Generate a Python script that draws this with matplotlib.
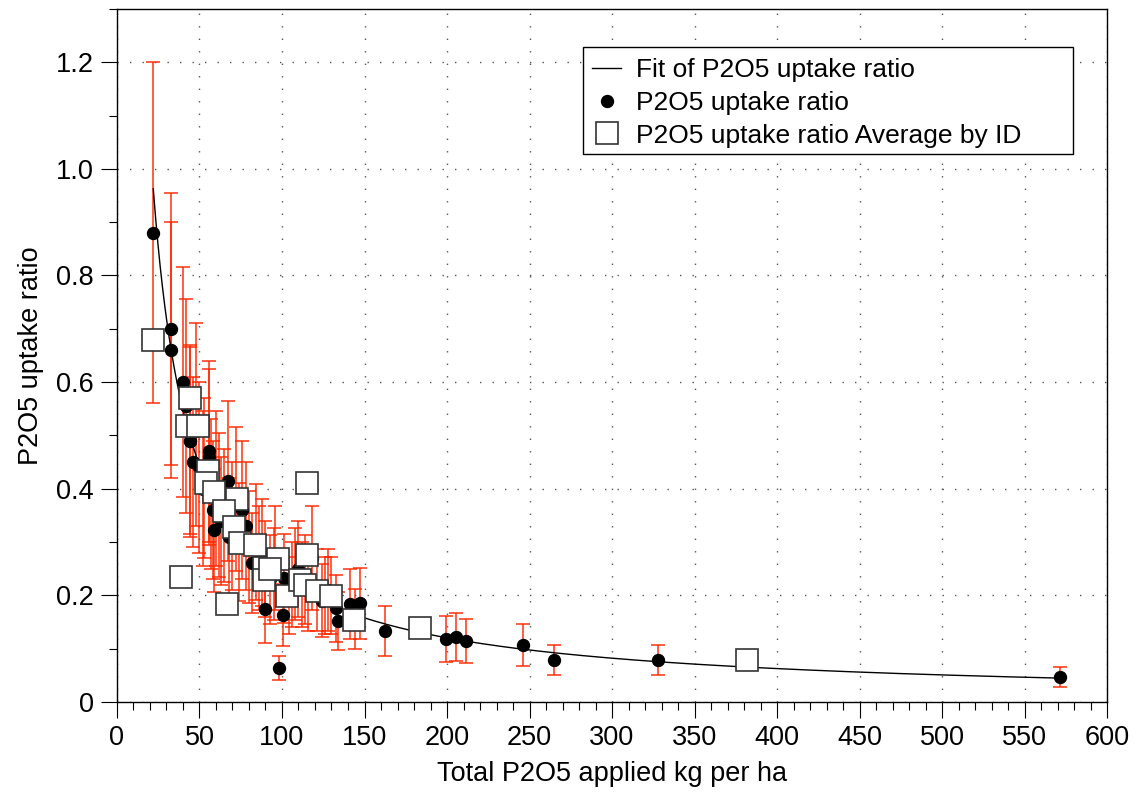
import numpy as np
import matplotlib.pyplot as plt
from matplotlib.patches import Rectangle
from matplotlib.ticker import MultipleLocator

plt.rcParams['font.family'] = ['Liberation Sans', 'DejaVu Sans']

# individual P2O5 uptake ratio values (x = total P2O5 applied, kg/ha)
dot_x = [22, 33, 33, 40, 42, 44, 44.5, 55.5, 55.5, 67, 59, 58,
         89.5, 100.6, 98, 134, 133, 141, 147, 162.4, 199.4, 205.5, 211.5,
         246, 265, 328, 571.5, 101,
         48, 50, 52, 60, 62, 65, 70, 72, 74, 76, 80, 84, 86, 90, 93, 96,
         104, 108, 112, 116, 118, 121, 126, 130, 144,
         46, 53, 57, 63, 68, 78, 82, 88, 95, 106, 110, 114, 124, 128]
dot_y = [0.88, 0.70, 0.66, 0.60, 0.555, 0.49, 0.49, 0.47, 0.46, 0.414, 0.322, 0.36,
         0.174, 0.163, 0.064, 0.152, 0.176, 0.184, 0.185, 0.133, 0.118, 0.122, 0.114,
         0.107, 0.079, 0.079, 0.047, 0.232,
         0.52, 0.44, 0.40, 0.40, 0.37, 0.35, 0.33, 0.38, 0.30, 0.36, 0.29, 0.30, 0.27,
         0.25, 0.23, 0.27, 0.20, 0.24, 0.22, 0.21, 0.27, 0.21, 0.20, 0.20, 0.155,
         0.45, 0.42, 0.39, 0.34, 0.31, 0.33, 0.26, 0.28, 0.24, 0.22, 0.25, 0.23,
         0.19, 0.21]
dot_err = [0.32, 0.255, 0.24, 0.215, 0.20, 0.175, 0.18, 0.17, 0.165, 0.15, 0.115, 0.13,
           0.063, 0.058, 0.022, 0.055, 0.063, 0.066, 0.066, 0.047, 0.043, 0.045, 0.041,
           0.039, 0.028, 0.028, 0.018, 0.083,
           0.19, 0.16, 0.145, 0.145, 0.135, 0.125, 0.12, 0.135, 0.11, 0.13, 0.105, 0.108,
           0.097, 0.09, 0.083, 0.097, 0.072, 0.086, 0.08, 0.076, 0.097, 0.076, 0.072,
           0.072, 0.056,
           0.16, 0.15, 0.14, 0.12, 0.11, 0.12, 0.094, 0.10, 0.086, 0.08, 0.09, 0.083,
           0.068, 0.076]

# averages by ID
avg_x = [22, 38.8, 44, 42.5, 49, 55, 54, 59, 72.7, 65, 71, 74.5, 83.6, 66.7, 89,
         115, 97.6, 115, 89, 92.7, 103, 111, 114, 121, 129.7, 143.6, 183.6, 381.8]
avg_y = [0.679, 0.234, 0.57, 0.517, 0.517, 0.433, 0.41, 0.394, 0.38, 0.358, 0.328,
         0.298, 0.294, 0.184, 0.251, 0.411, 0.268, 0.276, 0.229, 0.249, 0.199, 0.229,
         0.219, 0.208, 0.199, 0.154, 0.139, 0.079]

# power-law fit y = a * x^b of the individual values
b, log_a = np.polyfit(np.log(dot_x), np.log(dot_y), 1)
fit_x = np.linspace(min(dot_x), max(dot_x), 400)
fit_y = np.exp(log_a) * fit_x ** b

fig = plt.figure(figsize=(11.38, 7.93), dpi=100)
ax = fig.add_axes([0.1028, 0.1148, 0.87, 0.874])

ax.errorbar(dot_x, dot_y, yerr=dot_err, fmt='none', ecolor='#ff2600',
            elinewidth=1.1, capsize=4.7, capthick=1.1, alpha=0.95, zorder=2)
ax.plot(fit_x, fit_y, color='black', lw=1.0, zorder=3,
        label='Fit of P2O5 uptake ratio')
ax.plot(dot_x, dot_y, 'o', color='black', ms=8.6, zorder=4,
        label='P2O5 uptake ratio')
ax.plot(avg_x, avg_y, 's', mfc='white', mec='#333333', mew=1.2, ms=16, zorder=5,
        label='P2O5 uptake ratio Average by ID')

ax.set_xlim(0, 600)
ax.set_ylim(0, 1.3)
ax.xaxis.set_major_locator(MultipleLocator(50))
ax.xaxis.set_minor_locator(MultipleLocator(10))
ax.yaxis.set_minor_locator(MultipleLocator(0.1))
ax.set_yticks([0, 0.2, 0.4, 0.6, 0.8, 1.0, 1.2])
ax.set_yticklabels(['0', '0.2', '0.4', '0.6', '0.8', '1.0', '1.2'])
ax.tick_params(which='major', direction='out', length=11.5, width=0.8,
               labelsize=19.5, pad=5)
ax.tick_params(which='minor', direction='out', length=5.8, width=0.8)
ax.grid(True, which='major', linestyle=(0, (1, 8)), color='#555555', lw=1.0)

for s in ax.spines.values():
    s.set_linewidth(1.0)

ax.set_xlabel('Total P2O5 applied kg per ha', fontsize=19.5, labelpad=7)
ax.set_ylabel('P2O5 uptake ratio', fontsize=19.5, labelpad=9)

# legend box is wider than its text, so draw the frame separately
box = Rectangle((0.4707, 0.7908), 0.495, 0.1544, transform=ax.transAxes,
                facecolor='white', edgecolor='black', lw=1.0, zorder=6)
ax.add_patch(box)
leg = ax.legend(loc='upper left', bbox_to_anchor=(0.4707, 0.942), fontsize=19,
                frameon=False, handlelength=1.1, handletextpad=0.55,
                borderpad=0.35, labelspacing=0.33, borderaxespad=0)
leg.set_zorder(7)

fig.savefig('out.png', dpi=100)
